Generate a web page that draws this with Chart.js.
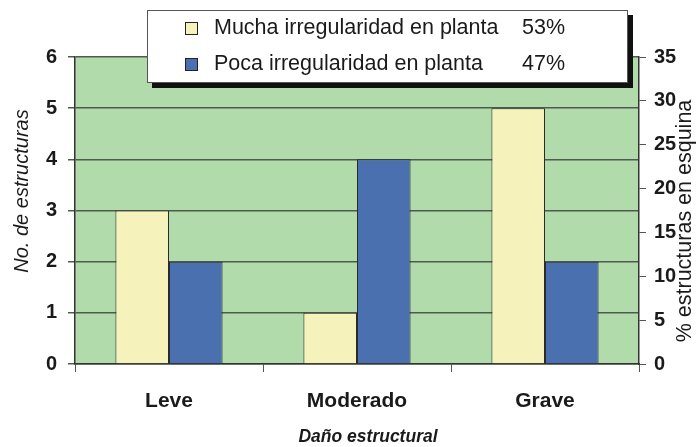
<!DOCTYPE html>
<html>
<head>
<meta charset="utf-8">
<script src="https://cdn.jsdelivr.net/npm/chart.js@4.4.1/dist/chart.umd.min.js"></script>
<style>
  html, body { margin: 0; background: #fff; }
  #wrap { width: 698px; height: 447px; }
</style>
</head>
<body>
<div id="wrap"><canvas id="chart"></canvas></div>
<script>
const categories = ["Leve", "Moderado", "Grave"]
const seriesNames = ["Mucha irregularidad en planta", "Poca irregularidad en planta"]
const seriesShares = ["53%", "47%"]
const muchaValues = [3, 1, 5]
const pocaValues = [2, 4, 2]
const leftAxis = { min: 0, max: 6, step: 1 }
const rightAxis = { min: 0, max: 35, step: 5 }

const FONT = "'Liberation Sans', Arial, sans-serif"
const TEXT = "#1a1a1a"
const GRID = "#4f5a4f"
const colors = ["#f5f2bc", "#4a70b0"]

// green plot background
const plotBackground = {
  id: "plotBackground",
  beforeDraw(chart) {
    const { ctx, chartArea: a } = chart
    ctx.save()
    ctx.fillStyle = "#b2dbac"
    ctx.fillRect(a.left, a.top, a.right - a.left, a.bottom - a.top)
    ctx.restore()
  }
}

// axis titles + boxed legend with shadow
const overlay = {
  id: "overlay",
  afterDraw(chart) {
    const { ctx } = chart
    ctx.save()
    ctx.fillStyle = TEXT
    ctx.textAlign = "center"
    ctx.textBaseline = "middle"

    ctx.font = "italic bold 17.5px " + FONT
    ctx.fillText("Daño estructural", 368, 437)

    ctx.save()
    ctx.translate(22, 191)
    ctx.rotate(-Math.PI / 2)
    ctx.font = "italic 20px " + FONT
    ctx.fillText("No. de estructuras", 0, 0)
    ctx.restore()

    ctx.save()
    ctx.translate(685, 221)
    ctx.rotate(-Math.PI / 2)
    ctx.font = "21.5px " + FONT
    ctx.fillText("% estructuras en esquina", 0, 0)
    ctx.restore()

    // legend box
    ctx.fillStyle = "#111"
    ctx.fillRect(152, 15, 481, 73)
    ctx.fillStyle = "#fff"
    ctx.fillRect(147, 10, 481, 73)
    ctx.strokeStyle = "#555"
    ctx.lineWidth = 1
    ctx.strokeRect(147.5, 10.5, 480, 72)

    ctx.textAlign = "left"
    ctx.font = "21.5px " + FONT
    chart.data.datasets.forEach((ds, i) => {
      const y = 28 + i * 36
      ctx.fillStyle = ds.backgroundColor
      ctx.fillRect(185, y - 6, 12, 12)
      ctx.strokeStyle = "#222"
      ctx.strokeRect(185.5, y - 5.5, 12, 12)
      ctx.fillStyle = TEXT
      ctx.fillText(ds.label, 214, y)
      ctx.fillText(seriesShares[i], 522, y)
    })
    ctx.restore()
  }
}

new Chart(document.getElementById("chart"), {
  type: "bar",
  data: {
    labels: categories,
    datasets: [
      { label: seriesNames[0], data: muchaValues, backgroundColor: colors[0] },
      { label: seriesNames[1], data: pocaValues, backgroundColor: colors[1] }
    ]
  },
  options: {
    responsive: true,
    maintainAspectRatio: false,
    animation: false,
    layout: { padding: { top: 57, left: 0, right: 0, bottom: 0 } },
    datasets: {
      bar: {
        borderColor: "#2a2a2a",
        borderWidth: 1,
        barPercentage: 1,
        categoryPercentage: 0.57
      }
    },
    plugins: {
      legend: { display: false },
      tooltip: { enabled: false }
    },
    scales: {
      x: {
        afterFit(scale) { scale.height = 83 },
        grid: { drawOnChartArea: false, color: GRID, tickLength: 8, lineWidth: 1 },
        border: { color: "#333", width: 1.5 },
        ticks: { color: TEXT, padding: 17, font: { family: FONT, size: 21, weight: "bold" } }
      },
      y: {
        position: "left",
        min: leftAxis.min,
        max: leftAxis.max,
        afterFit(scale) { scale.width = 75 },
        grid: { color: GRID, lineWidth: 1.5, tickLength: 7 },
        border: { color: "#333", width: 1.5 },
        ticks: { stepSize: leftAxis.step, color: TEXT, padding: 11, font: { family: FONT, size: 20, weight: "bold" } }
      },
      y2: {
        position: "right",
        min: rightAxis.min,
        max: rightAxis.max,
        afterFit(scale) { scale.width = 59 },
        grid: { drawOnChartArea: false, color: GRID, lineWidth: 1, tickLength: 7 },
        border: { color: "#333", width: 1.5 },
        ticks: { stepSize: rightAxis.step, color: TEXT, padding: 8, font: { family: FONT, size: 20, weight: "bold" } }
      }
    }
  },
  plugins: [plotBackground, overlay]
})
</script>
</body>
</html>
